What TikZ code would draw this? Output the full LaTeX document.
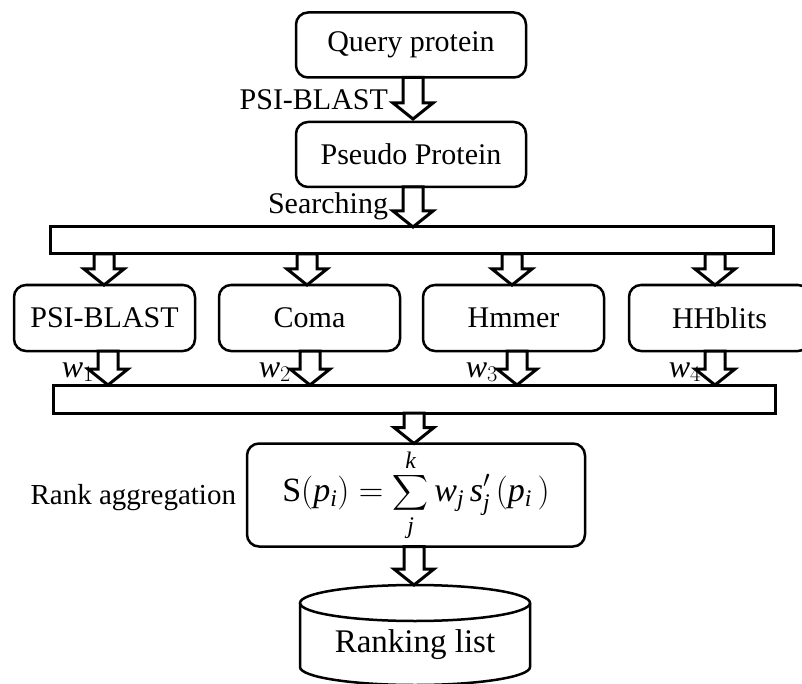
\documentclass[tikz,border=0pt]{standalone}
\usepackage{fix-cm}
\usepackage{amsmath}
\usepackage{fontspec}
\setmainfont{Liberation Serif}
\usetikzlibrary{calc}
\tikzset{
  x=1pt, y=-1pt,
  every node/.style={outer sep=0pt},
  txt/.style={font=\fontsize{30}{36}\selectfont, inner sep=0pt},
  wlab/.style={font=\fontsize{32}{38}\selectfont, inner sep=0pt, anchor=base east},
  box/.style={draw, line width=2.5pt, rounded corners=12pt, inner sep=0pt,
              font=\fontsize{30}{36}\selectfont},
  bar/.style={draw, line width=3pt, inner sep=0pt},
  blockarr/.style={draw, fill=white, line width=3pt, line join=miter},
}
\newcommand\blockarrow[2]{%
  \path[blockarr] let \p1=(#1), \p2=(#2) in
    (\x2-10pt,\y1) -- (\x2+10pt,\y1) -- (\x2+10pt,\y2+16pt) --
    (\x2+20pt,\y2+16pt) -- (\x2,\y2) -- (\x2-20pt,\y2+16pt) --
    (\x2-10pt,\y2+16pt) -- cycle;}
\begin{document}
\begin{tikzpicture}
\useasboundingbox (0,0) rectangle (802,684);
% top boxes
\node[box, minimum width=230, minimum height=65] (query) at (411,45) {Query protein};
\node[box, minimum width=230, minimum height=65] (pseudo) at (411,154.5) {Pseudo Protein};
% bars
\node[bar, minimum width=723, minimum height=27] (bar1) at (411.5,240.5) {};
\node[bar, minimum width=722, minimum height=28] (bar2) at (414,399) {};
% tool boxes
\node[box, minimum width=181, minimum height=66] (psi) at (104.5,318) {PSI-BLAST};
\node[box, minimum width=181, minimum height=66] (coma) at (309.5,318) {Coma};
\node[box, minimum width=181, minimum height=66] (hmmer) at (513.5,318) {Hmmer};
\node[box, minimum width=181, minimum height=66] (hhb) at (719.5,318) {HHblits};
% aggregation
\node[box, minimum width=338, minimum height=103, font=\fontsize{34}{40}\selectfont] (agg) at (416,495)
  {$\displaystyle\mathrm{S}(\mathit{p}_{\mathit{i}})=\sum_{\mathit{j}}^{\mathit{k}}\mathit{w}_{\mathit{j}}\,\mathit{s}'_{\mathit{j}}\,(\mathit{p}_{\mathit{i}}\,)$};
% cylinder
\coordinate (cyltop) at (414,585);
\draw[line width=2.5pt] (415,603) ellipse [x radius=115pt, y radius=18pt];
\draw[line width=2.5pt] (300,603) -- (300,667)
  arc[start angle=180, end angle=360, x radius=115pt, y radius=18pt] -- (530,603);
\node[font=\fontsize{33}{38}\selectfont, inner sep=0pt] (rank) at (415,645) {Ranking list};
% labels
\node[txt, anchor=base east] (lpsi) at (388,110) {PSI-BLAST};
\node[txt, anchor=base east] (lsearch) at (388,214) {Searching};
\node[txt, anchor=east, font=\fontsize{29}{35}\selectfont] (lrank) at (236,498) {Rank aggregation};
\node[wlab] (w1) at (94,377) {$\mathit{w}_{1}$};
\node[wlab] (w2) at (291,377) {$\mathit{w}_{2}$};
\node[wlab] (w3) at (498,377) {$\mathit{w}_{3}$};
\node[wlab] (w4) at (701,377) {$\mathit{w}_{4}$};
% arrows
\blockarrow{query.south -| 413,0}{413,119}
\blockarrow{pseudo.south -| 413,0}{bar1.north -| 413,0}
\blockarrow{psi.north |- bar1.south}{$(psi.north)+(-0.5,0)$}
\blockarrow{coma.north |- bar1.south}{$(coma.north)+(-2.5,0)$}
\blockarrow{hmmer.north |- bar1.south}{$(hmmer.north)+(-1.5,0)$}
\blockarrow{hhb.north |- bar1.south}{$(hhb.north)+(-4.5,0)$}
\blockarrow{psi.south}{$(psi.south |- bar2.north)+(3.5,0)$}
\blockarrow{coma.south}{$(coma.south |- bar2.north)+(0.5,0)$}
\blockarrow{hmmer.south}{$(hmmer.south |- bar2.north)+(3.5,0)$}
\blockarrow{hhb.south}{$(hhb.south |- bar2.north)+(-4.5,0)$}
\blockarrow{bar2.south -| 414,0}{agg.north -| 414,0}
\blockarrow{agg.south -| 414,0}{cyltop}
\end{tikzpicture}
\end{document}
